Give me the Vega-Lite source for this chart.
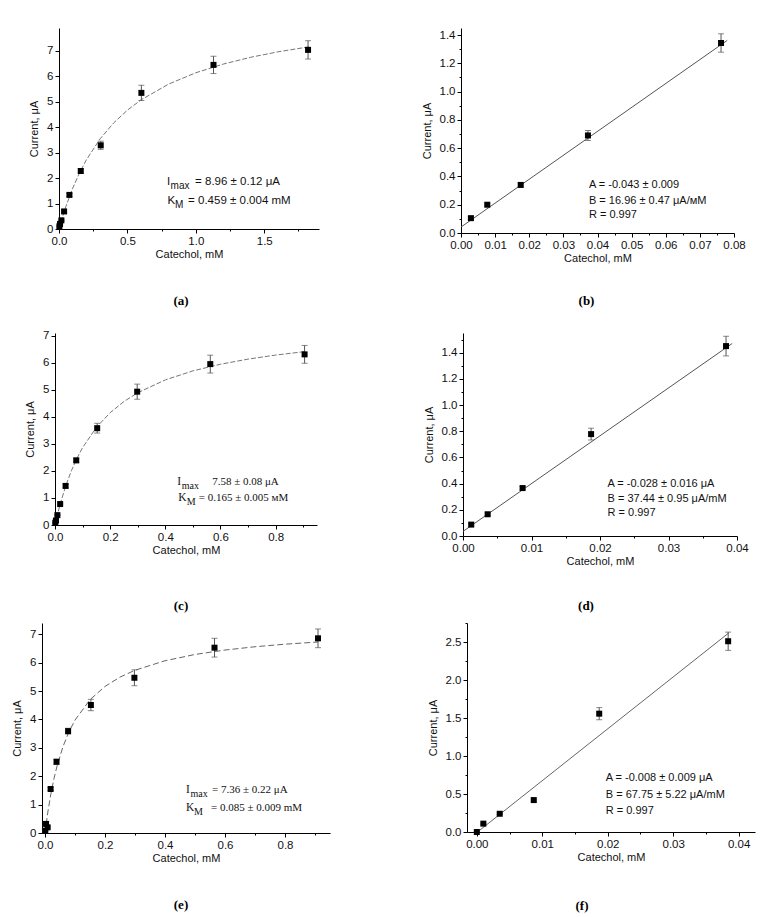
{
  "$schema": "https://vega.github.io/schema/vega-lite/v6.json",
  "padding": {"left": 11, "top": 28, "right": 5, "bottom": 5},
  "background": "white",
  "config": {
    "view": {"stroke": null},
    "font": "Liberation Sans",
    "axis": {"grid": false, "domainColor": "#000", "domainWidth": 1, "tickColor": "#000", "tickWidth": 1, "labelColor": "#111", "titleColor": "#111", "labelFont": "Liberation Sans", "titleFont": "Liberation Sans", "labelFontSize": 11.5, "titleFontSize": 11, "titleFontWeight": "normal", "labelPadding": 2, "labelFlush": false, "labelOverlap": false},
    "axisX": {"titlePadding": 2},
    "axisY": {"titlePadding": 7},
    "title": {"orient": "bottom", "frame": "group", "anchor": "middle", "font": "Liberation Serif", "fontSize": 13, "fontWeight": "bold", "color": "#000", "offset": 35},
    "text": {"align": "left", "baseline": "middle", "color": "#111", "fontSize": 11}
  },
  "datasets": {
    "a_pts": [
      {"c": 0.0029, "i": 0.105, "e": 0.02}, {"c": 0.0077, "i": 0.2, "e": 0.02}, {"c": 0.0175, "i": 0.34, "e": 0.02},
      {"c": 0.0372, "i": 0.69, "e": 0.04}, {"c": 0.0762, "i": 1.34, "e": 0.06}, {"c": 0.159, "i": 2.28, "e": 0.08},
      {"c": 0.305, "i": 3.29, "e": 0.16}, {"c": 0.602, "i": 5.35, "e": 0.3}, {"c": 1.129, "i": 6.45, "e": 0.34},
      {"c": 1.82, "i": 7.04, "e": 0.36}
    ],
    "a_fit": [
      {"c": 0, "i": 0}, {"c": 0.02, "i": 0.374}, {"c": 0.05, "i": 0.88}, {"c": 0.1, "i": 1.603}, {"c": 0.15, "i": 2.207},
      {"c": 0.2, "i": 2.719}, {"c": 0.3, "i": 3.542}, {"c": 0.4, "i": 4.172}, {"c": 0.5, "i": 4.672}, {"c": 0.6, "i": 5.076},
      {"c": 0.8, "i": 5.693}, {"c": 1.0, "i": 6.141}, {"c": 1.2, "i": 6.481}, {"c": 1.4, "i": 6.748}, {"c": 1.6, "i": 6.963},
      {"c": 1.83, "i": 7.163}
    ],
    "b_pts": [
      {"c": 0.0029, "i": 0.105, "e": 0.01}, {"c": 0.0077, "i": 0.2, "e": 0.01}, {"c": 0.0175, "i": 0.34, "e": 0.015},
      {"c": 0.0372, "i": 0.69, "e": 0.035}, {"c": 0.0762, "i": 1.344, "e": 0.065}
    ],
    "b_fit": [{"c": 0, "i": 0.042}, {"c": 0.078, "i": 1.362}],
    "c_pts": [
      {"c": 0.001, "i": 0.085, "e": 0.01}, {"c": 0.0035, "i": 0.165, "e": 0.01}, {"c": 0.0087, "i": 0.365, "e": 0.015},
      {"c": 0.0187, "i": 0.775, "e": 0.04}, {"c": 0.0384, "i": 1.445, "e": 0.07}, {"c": 0.077, "i": 2.39, "e": 0.08},
      {"c": 0.153, "i": 3.58, "e": 0.18}, {"c": 0.298, "i": 4.93, "e": 0.28}, {"c": 0.563, "i": 5.95, "e": 0.33},
      {"c": 0.905, "i": 6.31, "e": 0.33}
    ],
    "c_fit": [
      {"c": 0, "i": 0}, {"c": 0.01, "i": 0.433}, {"c": 0.02, "i": 0.819}, {"c": 0.04, "i": 1.479}, {"c": 0.06, "i": 2.021},
      {"c": 0.08, "i": 2.475}, {"c": 0.1, "i": 2.86}, {"c": 0.15, "i": 3.61}, {"c": 0.2, "i": 4.153}, {"c": 0.25, "i": 4.566},
      {"c": 0.3, "i": 4.89}, {"c": 0.4, "i": 5.366}, {"c": 0.5, "i": 5.699}, {"c": 0.6, "i": 5.945}, {"c": 0.7, "i": 6.134},
      {"c": 0.8, "i": 6.284}, {"c": 0.905, "i": 6.411}
    ],
    "d_pts": [
      {"c": 0.0012, "i": 0.087, "e": 0.01}, {"c": 0.0036, "i": 0.166, "e": 0.01}, {"c": 0.0087, "i": 0.366, "e": 0.012},
      {"c": 0.0187, "i": 0.778, "e": 0.045}, {"c": 0.0384, "i": 1.45, "e": 0.075}
    ],
    "d_fit": [{"c": 0, "i": 0.035}, {"c": 0.0393, "i": 1.47}],
    "e_pts": [
      {"c": 0.001, "i": 0.08, "e": 0.02}, {"c": 0.0035, "i": 0.32, "e": 0.03}, {"c": 0.0087, "i": 0.2, "e": 0.03},
      {"c": 0.0187, "i": 1.55, "e": 0.05}, {"c": 0.0384, "i": 2.51, "e": 0.09}, {"c": 0.077, "i": 3.59, "e": 0.1},
      {"c": 0.153, "i": 4.51, "e": 0.2}, {"c": 0.298, "i": 5.47, "e": 0.28}, {"c": 0.565, "i": 6.53, "e": 0.33},
      {"c": 0.91, "i": 6.86, "e": 0.33}
    ],
    "e_fit": [
      {"c": 0, "i": 0}, {"c": 0.01, "i": 0.775}, {"c": 0.02, "i": 1.402}, {"c": 0.03, "i": 1.92}, {"c": 0.04, "i": 2.355},
      {"c": 0.06, "i": 3.046}, {"c": 0.08, "i": 3.568}, {"c": 0.1, "i": 3.978}, {"c": 0.15, "i": 4.698}, {"c": 0.2, "i": 5.165},
      {"c": 0.25, "i": 5.493}, {"c": 0.3, "i": 5.735}, {"c": 0.4, "i": 6.07}, {"c": 0.5, "i": 6.291}, {"c": 0.6, "i": 6.447},
      {"c": 0.7, "i": 6.563}, {"c": 0.8, "i": 6.653}, {"c": 0.91, "i": 6.731}
    ],
    "f_pts": [
      {"c": 0, "i": 0, "e": 0.005}, {"c": 0.001, "i": 0.11, "e": 0.01}, {"c": 0.0035, "i": 0.24, "e": 0.01},
      {"c": 0.0087, "i": 0.42, "e": 0.015}, {"c": 0.0187, "i": 1.557, "e": 0.08}, {"c": 0.0384, "i": 2.51, "e": 0.12}
    ],
    "f_fit": [{"c": 0.0001, "i": 0}, {"c": 0.0385, "i": 2.62}]
  },
  "vconcat": [
    {
      "hconcat": [
        {"width": 18, "height": 301, "data": {"values": []}, "mark": "point"},
        {
          "width": 260, "height": 201,
          "title": {"text": "(a)", "dx": -8, "offset": 35},
          "encoding": {
            "x": {"type": "quantitative", "scale": {"domain": [0, 1.9], "nice": false, "zero": false},
              "axis": {"title": "Catechol, mM", "values": [0, 0.25, 0.5, 0.75, 1, 1.25, 1.5, 1.75], "format": ".1f",
                "labelExpr": "abs(datum.value*2-round(datum.value*2))<0.000001 ? datum.label : ''",
                "tickSize": {"condition": {"test": "abs(datum.value*2-round(datum.value*2))<0.000001", "value": 4}, "value": 2}}},
            "y": {"type": "quantitative", "scale": {"domain": [0, 7.9], "nice": false, "zero": false},
              "axis": {"title": "Current, μA", "values": [0, 0.5, 1, 1.5, 2, 2.5, 3, 3.5, 4, 4.5, 5, 5.5, 6, 6.5, 7, 7.5], "format": "d",
                "labelExpr": "abs(datum.value-round(datum.value))<0.000001 ? datum.label : ''",
                "tickSize": {"condition": {"test": "abs(datum.value-round(datum.value))<0.000001", "value": 4}, "value": 2}}}
          },
          "layer": [
            {"data": {"name": "a_fit"}, "mark": {"type": "line", "color": "#777", "strokeWidth": 1, "strokeDash": [5, 2]}, "encoding": {"x": {"field": "c"}, "y": {"field": "i"}}},
            {"data": {"name": "a_pts"}, "mark": {"type": "errorbar", "ticks": true, "size": 6, "thickness": 1, "color": "#555"}, "encoding": {"x": {"field": "c"}, "y": {"field": "i"}, "yError": {"field": "e"}}},
            {"data": {"name": "a_pts"}, "mark": {"type": "point", "shape": "square", "filled": true, "size": 36, "color": "#000", "opacity": 1}, "encoding": {"x": {"field": "c"}, "y": {"field": "i"}}},
            {"data": {"values": [{}]}, "mark": {"type": "text", "text": "I", "fontSize": 11.5}, "encoding": {"x": {"datum": 0.79}, "y": {"datum": 1.84}}},
            {"data": {"values": [{}]}, "mark": {"type": "text", "text": "max", "fontSize": 10, "dx": 3.5, "dy": 4}, "encoding": {"x": {"datum": 0.79}, "y": {"datum": 1.84}}},
            {"data": {"values": [{}]}, "mark": {"type": "text", "text": "= 8.96 ± 0.12 μA", "fontSize": 11.5, "dx": 28}, "encoding": {"x": {"datum": 0.79}, "y": {"datum": 1.84}}},
            {"data": {"values": [{}]}, "mark": {"type": "text", "text": "K", "fontSize": 11.5, "dx": 0.5}, "encoding": {"x": {"datum": 0.79}, "y": {"datum": 1.11}}},
            {"data": {"values": [{}]}, "mark": {"type": "text", "text": "M", "fontSize": 10, "dx": 8, "dy": 4}, "encoding": {"x": {"datum": 0.79}, "y": {"datum": 1.11}}},
            {"data": {"values": [{}]}, "mark": {"type": "text", "text": "= 0.459 ± 0.004 mM", "fontSize": 11.5, "dx": 21}, "encoding": {"x": {"datum": 0.79}, "y": {"datum": 1.11}}}
          ]
        },
        {"width": 142, "height": 1, "data": {"values": []}, "mark": "point"},
        {
          "width": 273, "height": 205,
          "title": {"text": "(b)", "dx": -11, "offset": 31},
          "encoding": {
            "x": {"type": "quantitative", "scale": {"domain": [0, 0.08], "nice": false, "zero": false},
              "axis": {"title": "Catechol, mM", "values": [0, 0.005, 0.01, 0.015, 0.02, 0.025, 0.03, 0.035, 0.04, 0.045, 0.05, 0.055, 0.06, 0.065, 0.07, 0.075, 0.08], "format": ".2f",
                "labelExpr": "abs(datum.value*100-round(datum.value*100))<0.000001 ? datum.label : ''",
                "tickSize": {"condition": {"test": "abs(datum.value*100-round(datum.value*100))<0.000001", "value": 4}, "value": 2}}},
            "y": {"type": "quantitative", "scale": {"domain": [0, 1.45], "nice": false, "zero": false},
              "axis": {"title": "Current, μA", "values": [0, 0.1, 0.2, 0.3, 0.4, 0.5, 0.6, 0.7, 0.8, 0.9, 1, 1.1, 1.2, 1.3, 1.4], "format": ".1f",
                "labelExpr": "abs(datum.value*5-round(datum.value*5))<0.000001 ? datum.label : ''",
                "tickSize": {"condition": {"test": "abs(datum.value*5-round(datum.value*5))<0.000001", "value": 4}, "value": 2}}}
          },
          "layer": [
            {"data": {"name": "b_fit"}, "mark": {"type": "line", "color": "#555", "strokeWidth": 1}, "encoding": {"x": {"field": "c"}, "y": {"field": "i"}}},
            {"data": {"name": "b_pts"}, "mark": {"type": "errorbar", "ticks": true, "size": 6, "thickness": 1, "color": "#555"}, "encoding": {"x": {"field": "c"}, "y": {"field": "i"}, "yError": {"field": "e"}}},
            {"data": {"name": "b_pts"}, "mark": {"type": "point", "shape": "square", "filled": true, "size": 36, "color": "#000", "opacity": 1}, "encoding": {"x": {"field": "c"}, "y": {"field": "i"}}},
            {"data": {"values": [{}]}, "mark": {"type": "text", "text": "A = -0.043 ± 0.009"}, "encoding": {"x": {"datum": 0.0375}, "y": {"datum": 0.337}}},
            {"data": {"values": [{}]}, "mark": {"type": "text", "text": "B = 16.96 ± 0.47 μA/мM"}, "encoding": {"x": {"datum": 0.0375}, "y": {"datum": 0.228}}},
            {"data": {"values": [{}]}, "mark": {"type": "text", "text": "R = 0.997"}, "encoding": {"x": {"datum": 0.0375}, "y": {"datum": 0.13}}}
          ]
        }
      ],
      "spacing": 0, "bounds": "flush"
    },
    {
      "hconcat": [
        {"width": 14, "height": 284, "data": {"values": []}, "mark": "point"},
        {
          "width": 262, "height": 192,
          "title": {"text": "(c)", "dx": -5, "offset": 44},
          "encoding": {
            "x": {"type": "quantitative", "scale": {"domain": [0, 0.95], "nice": false, "zero": false},
              "axis": {"title": "Catechol, mM", "values": [0, 0.1, 0.2, 0.3, 0.4, 0.5, 0.6, 0.7, 0.8, 0.9], "format": ".1f",
                "labelExpr": "abs(datum.value*5-round(datum.value*5))<0.000001 ? datum.label : ''",
                "tickSize": {"condition": {"test": "abs(datum.value*5-round(datum.value*5))<0.000001", "value": 4}, "value": 2}}},
            "y": {"type": "quantitative", "scale": {"domain": [0, 7.1], "nice": false, "zero": false},
              "axis": {"title": "Current, μA", "values": [0, 0.5, 1, 1.5, 2, 2.5, 3, 3.5, 4, 4.5, 5, 5.5, 6, 6.5, 7], "format": "d",
                "labelExpr": "abs(datum.value-round(datum.value))<0.000001 ? datum.label : ''",
                "tickSize": {"condition": {"test": "abs(datum.value-round(datum.value))<0.000001", "value": 4}, "value": 2}}}
          },
          "layer": [
            {"data": {"name": "c_fit"}, "mark": {"type": "line", "color": "#777", "strokeWidth": 1, "strokeDash": [5, 2]}, "encoding": {"x": {"field": "c"}, "y": {"field": "i"}}},
            {"data": {"name": "c_pts"}, "mark": {"type": "errorbar", "ticks": true, "size": 6, "thickness": 1, "color": "#555"}, "encoding": {"x": {"field": "c"}, "y": {"field": "i"}, "yError": {"field": "e"}}},
            {"data": {"name": "c_pts"}, "mark": {"type": "point", "shape": "square", "filled": true, "size": 36, "color": "#000", "opacity": 1}, "encoding": {"x": {"field": "c"}, "y": {"field": "i"}}},
            {"data": {"values": [{}]}, "mark": {"type": "text", "text": "I", "font": "Liberation Serif", "fontSize": 11.5}, "encoding": {"x": {"datum": 0.443}, "y": {"datum": 1.6}}},
            {"data": {"values": [{}]}, "mark": {"type": "text", "text": "max", "font": "Liberation Serif", "fontSize": 10, "dx": 4.5, "dy": 4}, "encoding": {"x": {"datum": 0.443}, "y": {"datum": 1.6}}},
            {"data": {"values": [{}]}, "mark": {"type": "text", "text": "7.58 ± 0.08 μA", "font": "Liberation Serif", "fontSize": 11, "dx": 35}, "encoding": {"x": {"datum": 0.443}, "y": {"datum": 1.6}}},
            {"data": {"values": [{}]}, "mark": {"type": "text", "text": "K", "font": "Liberation Serif", "fontSize": 11.5, "dx": 1}, "encoding": {"x": {"datum": 0.443}, "y": {"datum": 1.01}}},
            {"data": {"values": [{}]}, "mark": {"type": "text", "text": "M", "font": "Liberation Serif", "fontSize": 10, "dx": 9.5, "dy": 4}, "encoding": {"x": {"datum": 0.443}, "y": {"datum": 1.01}}},
            {"data": {"values": [{}]}, "mark": {"type": "text", "text": "= 0.165 ± 0.005 мM", "font": "Liberation Serif", "fontSize": 11, "dx": 21.5}, "encoding": {"x": {"datum": 0.443}, "y": {"datum": 1.01}}}
          ]
        },
        {"width": 146, "height": 1, "data": {"values": []}, "mark": "point"},
        {
          "width": 274, "height": 203,
          "title": {"text": "(d)", "dx": -14, "offset": 33},
          "encoding": {
            "x": {"type": "quantitative", "scale": {"domain": [0, 0.04], "nice": false, "zero": false},
              "axis": {"title": "Catechol, mM", "values": [0, 0.005, 0.01, 0.015, 0.02, 0.025, 0.03, 0.035, 0.04], "format": ".2f",
                "labelExpr": "abs(datum.value*100-round(datum.value*100))<0.000001 ? datum.label : ''",
                "tickSize": {"condition": {"test": "abs(datum.value*100-round(datum.value*100))<0.000001", "value": 4}, "value": 2}}},
            "y": {"type": "quantitative", "scale": {"domain": [0, 1.55], "nice": false, "zero": false},
              "axis": {"title": "Current, μA", "values": [0, 0.1, 0.2, 0.3, 0.4, 0.5, 0.6, 0.7, 0.8, 0.9, 1, 1.1, 1.2, 1.3, 1.4, 1.5], "format": ".1f",
                "labelExpr": "abs(datum.value*5-round(datum.value*5))<0.000001 ? datum.label : ''",
                "tickSize": {"condition": {"test": "abs(datum.value*5-round(datum.value*5))<0.000001", "value": 4}, "value": 2}}}
          },
          "layer": [
            {"data": {"name": "d_fit"}, "mark": {"type": "line", "color": "#555", "strokeWidth": 1}, "encoding": {"x": {"field": "c"}, "y": {"field": "i"}}},
            {"data": {"name": "d_pts"}, "mark": {"type": "errorbar", "ticks": true, "size": 6, "thickness": 1, "color": "#555"}, "encoding": {"x": {"field": "c"}, "y": {"field": "i"}, "yError": {"field": "e"}}},
            {"data": {"name": "d_pts"}, "mark": {"type": "point", "shape": "square", "filled": true, "size": 36, "color": "#000", "opacity": 1}, "encoding": {"x": {"field": "c"}, "y": {"field": "i"}}},
            {"data": {"values": [{}]}, "mark": {"type": "text", "text": "A = -0.028 ± 0.016  μA"}, "encoding": {"x": {"datum": 0.0211}, "y": {"datum": 0.397}}},
            {"data": {"values": [{}]}, "mark": {"type": "text", "text": "B = 37.44 ± 0.95 μA/mM"}, "encoding": {"x": {"datum": 0.0211}, "y": {"datum": 0.28}}},
            {"data": {"values": [{}]}, "mark": {"type": "text", "text": "R = 0.997"}, "encoding": {"x": {"datum": 0.0211}, "y": {"datum": 0.173}}}
          ]
        }
      ],
      "spacing": 0, "bounds": "flush"
    },
    {
      "hconcat": [
        {"width": 1, "height": 1, "data": {"values": []}, "mark": "point"},
        {
          "width": 288, "height": 210,
          "title": {"text": "(e)", "dx": -5, "offset": 35},
          "encoding": {
            "x": {"type": "quantitative", "scale": {"domain": [-0.01, 0.95], "nice": false, "zero": false},
              "axis": {"title": "Catechol, mM", "values": [0, 0.1, 0.2, 0.3, 0.4, 0.5, 0.6, 0.7, 0.8, 0.9], "format": ".1f",
                "labelExpr": "abs(datum.value*5-round(datum.value*5))<0.000001 ? datum.label : ''",
                "tickSize": {"condition": {"test": "abs(datum.value*5-round(datum.value*5))<0.000001", "value": 4}, "value": 2}}},
            "y": {"type": "quantitative", "scale": {"domain": [0, 7.4], "nice": false, "zero": false},
              "axis": {"title": "Current, μA", "values": [0, 0.5, 1, 1.5, 2, 2.5, 3, 3.5, 4, 4.5, 5, 5.5, 6, 6.5, 7], "format": "d",
                "labelExpr": "abs(datum.value-round(datum.value))<0.000001 ? datum.label : ''",
                "tickSize": {"condition": {"test": "abs(datum.value-round(datum.value))<0.000001", "value": 4}, "value": 2}}}
          },
          "layer": [
            {"data": {"name": "e_fit"}, "mark": {"type": "line", "color": "#666", "strokeWidth": 1, "strokeDash": [6, 3]}, "encoding": {"x": {"field": "c"}, "y": {"field": "i"}}},
            {"data": {"name": "e_pts"}, "mark": {"type": "errorbar", "ticks": true, "size": 6, "thickness": 1, "color": "#555"}, "encoding": {"x": {"field": "c"}, "y": {"field": "i"}, "yError": {"field": "e"}}},
            {"data": {"name": "e_pts"}, "mark": {"type": "point", "shape": "square", "filled": true, "size": 36, "color": "#000", "opacity": 1}, "encoding": {"x": {"field": "c"}, "y": {"field": "i"}}},
            {"data": {"values": [{}]}, "mark": {"type": "text", "text": "I", "font": "Liberation Serif", "fontSize": 11.5}, "encoding": {"x": {"datum": 0.47}, "y": {"datum": 1.5}}},
            {"data": {"values": [{}]}, "mark": {"type": "text", "text": "max", "font": "Liberation Serif", "fontSize": 10, "dx": 4.5, "dy": 4}, "encoding": {"x": {"datum": 0.47}, "y": {"datum": 1.5}}},
            {"data": {"values": [{}]}, "mark": {"type": "text", "text": "= 7.36 ± 0.22 μA", "font": "Liberation Serif", "fontSize": 11, "dx": 26}, "encoding": {"x": {"datum": 0.47}, "y": {"datum": 1.5}}},
            {"data": {"values": [{}]}, "mark": {"type": "text", "text": "K", "font": "Liberation Serif", "fontSize": 11.5}, "encoding": {"x": {"datum": 0.47}, "y": {"datum": 0.89}}},
            {"data": {"values": [{}]}, "mark": {"type": "text", "text": "M", "font": "Liberation Serif", "fontSize": 10, "dx": 8, "dy": 4}, "encoding": {"x": {"datum": 0.47}, "y": {"datum": 0.89}}},
            {"data": {"values": [{}]}, "mark": {"type": "text", "text": "= 0.085 ± 0.009 mM", "font": "Liberation Serif", "fontSize": 11, "dx": 25}, "encoding": {"x": {"datum": 0.47}, "y": {"datum": 0.89}}}
          ]
        },
        {"width": 137, "height": 1, "data": {"values": []}, "mark": "point"},
        {
          "width": 288, "height": 209,
          "title": {"text": "(f)", "dx": -29, "offset": 37},
          "encoding": {
            "x": {"type": "quantitative", "scale": {"domain": [-0.0015, 0.0425], "nice": false, "zero": false},
              "axis": {"title": "Catechol, mM", "values": [0, 0.005, 0.01, 0.015, 0.02, 0.025, 0.03, 0.035, 0.04], "format": ".2f",
                "labelExpr": "abs(datum.value*100-round(datum.value*100))<0.000001 ? datum.label : ''",
                "tickSize": {"condition": {"test": "abs(datum.value*100-round(datum.value*100))<0.000001", "value": 4}, "value": 2}}},
            "y": {"type": "quantitative", "scale": {"domain": [0, 2.75], "nice": false, "zero": false},
              "axis": {"title": "Current, μA", "values": [0, 0.25, 0.5, 0.75, 1, 1.25, 1.5, 1.75, 2, 2.25, 2.5, 2.75], "format": ".1f",
                "labelExpr": "abs(datum.value*2-round(datum.value*2))<0.000001 ? datum.label : ''",
                "tickSize": {"condition": {"test": "abs(datum.value*2-round(datum.value*2))<0.000001", "value": 4}, "value": 2}}}
          },
          "layer": [
            {"data": {"name": "f_fit"}, "mark": {"type": "line", "color": "#666", "strokeWidth": 1}, "encoding": {"x": {"field": "c"}, "y": {"field": "i"}}},
            {"data": {"name": "f_pts"}, "mark": {"type": "errorbar", "ticks": true, "size": 6, "thickness": 1, "color": "#555"}, "encoding": {"x": {"field": "c"}, "y": {"field": "i"}, "yError": {"field": "e"}}},
            {"data": {"name": "f_pts"}, "mark": {"type": "point", "shape": "square", "filled": true, "size": 36, "color": "#000", "opacity": 1}, "encoding": {"x": {"field": "c"}, "y": {"field": "i"}}},
            {"data": {"values": [{}]}, "mark": {"type": "text", "text": "A = -0.008 ± 0.009 μA"}, "encoding": {"x": {"datum": 0.0197}, "y": {"datum": 0.714}}},
            {"data": {"values": [{}]}, "mark": {"type": "text", "text": "B = 67.75 ± 5.22 μA/mM"}, "encoding": {"x": {"datum": 0.0197}, "y": {"datum": 0.487}}},
            {"data": {"values": [{}]}, "mark": {"type": "text", "text": "R = 0.997"}, "encoding": {"x": {"datum": 0.0197}, "y": {"datum": 0.276}}}
          ]
        }
      ],
      "spacing": 0, "bounds": "flush"
    }
  ],
  "spacing": 0
}
